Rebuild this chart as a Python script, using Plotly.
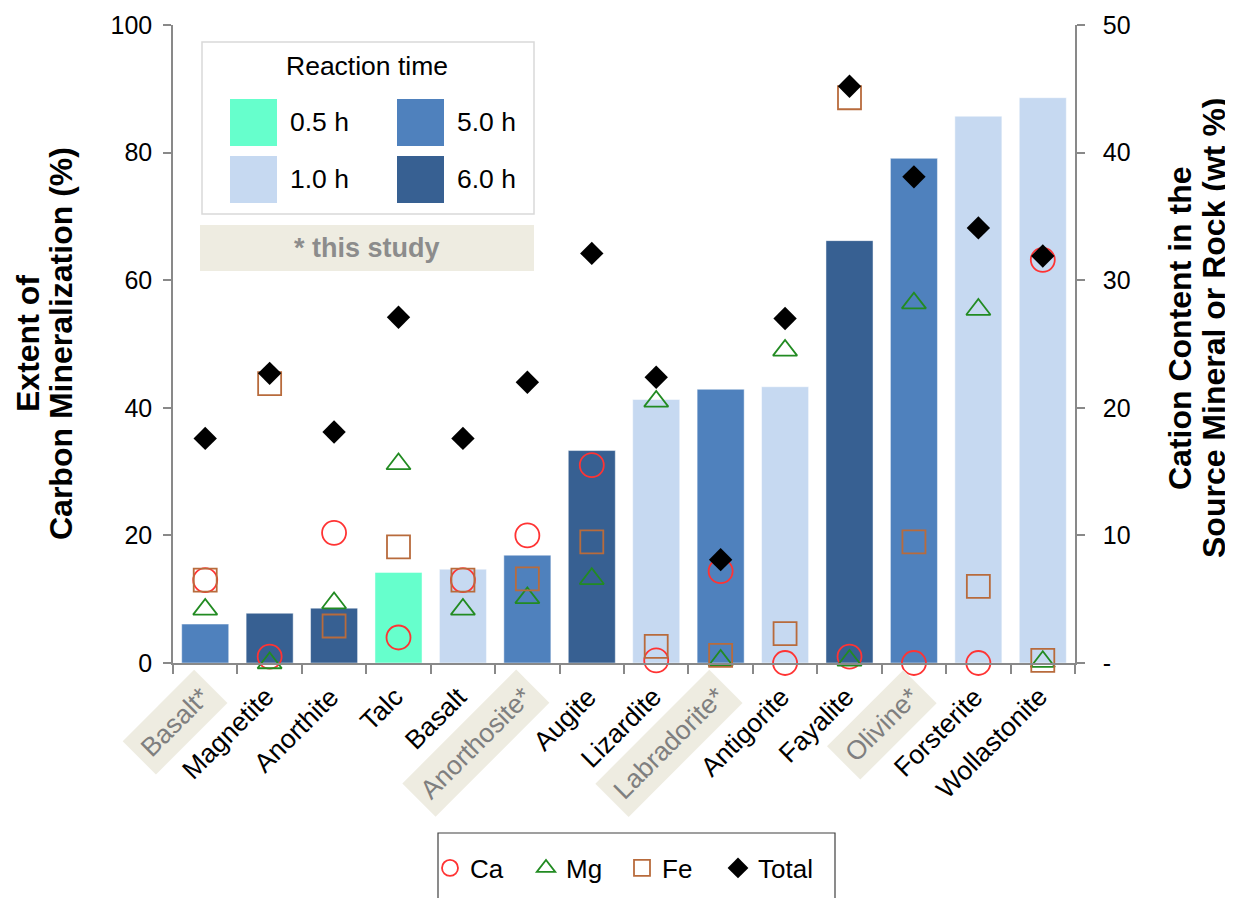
import plotly.graph_objects as go

# ---------------- data ----------------
minerals = ["Basalt*", "Magnetite", "Anorthite", "Talc", "Basalt", "Anorthosite*", "Augite",
            "Lizardite", "Labradorite*", "Antigorite", "Fayalite", "Olivine*", "Forsterite", "Wollastonite"]
this_study = [True, False, False, False, False, True, False, False, True, False, False, True, False, False]
extent = [6.1, 7.8, 8.6, 14.2, 14.7, 16.9, 33.3, 41.3, 42.9, 43.3, 66.2, 79.1, 85.7, 88.6]
reaction_time = ["5.0 h", "6.0 h", "6.0 h", "0.5 h", "1.0 h", "5.0 h", "6.0 h",
                 "1.0 h", "5.0 h", "1.0 h", "6.0 h", "5.0 h", "1.0 h", "1.0 h"]
ca = [6.5, 0.5, 10.2, 2.0, 6.5, 10.0, 15.5, 0.2, 7.2, 0.0, 0.5, 0.0, 0.0, 31.6]
mg = [4.2, 0.0, 4.7, 15.6, 4.2, 5.1, 6.6, 20.5, 0.2, 24.5, 0.2, 28.2, 27.7, 0.1]
fe = [6.5, 21.9, 2.9, 9.1, 6.5, 6.6, 9.5, 1.3, 0.6, 2.3, 44.3, 9.5, 6.0, 0.2]
total = [17.6, 22.7, 18.1, 27.1, 17.6, 22.0, 32.1, 22.4, 8.1, 27.0, 45.2, 38.1, 34.1, 31.9]

time_levels = ["0.5 h", "1.0 h", "5.0 h", "6.0 h"]
left_ticks = [0, 20, 40, 60, 80, 100]
right_ticks = [0, 10, 20, 30, 40, 50]
right_ticktext = ["-", "10", "20", "30", "40", "50"]
left_title = ["Extent of", "Carbon Mineralization (%)"]
right_title = ["Cation Content in the", "Source Mineral or Rock (wt %)"]

# ---------------- styles ----------------
FONT = "Liberation Sans, Arial, sans-serif"
time_colors = {"0.5 h": "#66FFCC", "1.0 h": "#C6D9F1", "5.0 h": "#4F81BD", "6.0 h": "#376092"}
AXIS_COL = "#898989"
BEIGE = "#EEECE1"
GRAY_TXT = "#7F7F7F"

OFF = 8                      # page body margin of the browser
PL, PT, PW, PH = 173, 25, 902, 638   # plot area in picture pixels
W, H = 1233, 898


def px(x):
    return (x - PL) / PW


def py(y):
    return (PT + PH - y) / PH


fig = go.Figure()

# bars, one trace per reaction time
for t in time_levels:
    xs = [m for m, rt in zip(minerals, reaction_time) if rt == t]
    ys = [v for v, rt in zip(extent, reaction_time) if rt == t]
    fig.add_trace(go.Bar(x=xs, y=ys, name=t, width=0.73, showlegend=False,
                         marker=dict(color=time_colors[t], line=dict(width=0.8, color="rgba(255,255,255,0.6)")),
                         yaxis="y"))

# cation markers on the right axis
marker_specs = [
    ("Ca", ca, dict(symbol="circle-open", size=24, color="#FF3333", line=dict(width=1.8, color="#FF3333"))),
    ("Mg", mg, dict(symbol="triangle-up-open", size=21, color="#228B22", line=dict(width=1.8, color="#228B22"))),
    ("Fe", fe, dict(symbol="square-open", size=23, color="#B86B3C", line=dict(width=1.8, color="#B86B3C"))),
    ("Total", total, dict(symbol="diamond", size=18, color="#000000", line=dict(width=0))),
]
for name, vals, mk in marker_specs:
    fig.add_trace(go.Scatter(x=minerals, y=vals, name=name, mode="markers", marker=mk,
                             yaxis="y2", legend="legend2", cliponaxis=False))

annotations = []
# category labels (rotated), some highlighted
for m, star in zip(minerals, this_study):
    annotations.append(dict(
        x=m, xref="x", y=0, yref="y", text=m, showarrow=False, textangle=-45,
        xanchor="right", yanchor="top", xshift=23, yshift=-6,
        font=dict(family=FONT, size=26.5, color=GRAY_TXT if star else "#000000"),
        bgcolor=BEIGE if star else "rgba(0,0,0,0)", borderpad=8))

# axis titles, one annotation per line
for line, xc in zip(left_title, [28, 61]):
    annotations.append(dict(x=px(xc), y=py(344), xref="paper", yref="paper", showarrow=False,
                            text="<b>%s</b>" % line, textangle=-90, xanchor="center", yanchor="middle",
                            font=dict(family=FONT, size=32, color="#000000")))
for line, xc in zip(right_title, [1180, 1214]):
    annotations.append(dict(x=px(xc), y=py(328), xref="paper", yref="paper", showarrow=False,
                            text="<b>%s</b>" % line, textangle=-90, xanchor="center", yanchor="middle",
                            font=dict(family=FONT, size=32, color="#000000")))

shapes = []
# reaction time legend box
shapes.append(dict(type="rect", xref="paper", yref="paper", x0=px(202), x1=px(534), y0=py(214), y1=py(42),
                   line=dict(color="#D9D9D9", width=1.5), fillcolor="white", layer="above"))
annotations.append(dict(x=px(367), y=py(66), xref="paper", yref="paper", showarrow=False,
                        text="Reaction time", xanchor="center", yanchor="middle",
                        font=dict(family=FONT, size=26.5, color="#000000")))
legend_slots = {"0.5 h": (230, 99), "1.0 h": (230, 156), "5.0 h": (397, 99), "6.0 h": (397, 156)}
for t in time_levels:
    x0, y0 = legend_slots[t]
    shapes.append(dict(type="rect", xref="paper", yref="paper", x0=px(x0), x1=px(x0 + 47),
                       y0=py(y0 + 47), y1=py(y0), line=dict(width=0), fillcolor=time_colors[t], layer="above"))
    annotations.append(dict(x=px(x0 + 58), y=py(y0 + 23), xref="paper", yref="paper", showarrow=False,
                            text=t, xanchor="left", yanchor="middle",
                            font=dict(family=FONT, size=26.5, color="#000000")))

# "* this study" box
shapes.append(dict(type="rect", xref="paper", yref="paper", x0=px(200), x1=px(534), y0=py(271), y1=py(225),
                   line=dict(width=0), fillcolor=BEIGE, layer="above"))
annotations.append(dict(x=px(367), y=py(248), xref="paper", yref="paper", showarrow=False,
                        text="<b>* this study</b>", xanchor="center", yanchor="middle",
                        font=dict(family=FONT, size=27, color="#8C8C8C")))

# bottom legend frame
shapes.append(dict(type="rect", xref="paper", yref="paper", x0=px(438), x1=px(835), y0=py(915), y1=py(833),
                   line=dict(color="#404040", width=1.2), fillcolor="rgba(0,0,0,0)"))

fig.update_layout(
    width=W, height=H, autosize=False,
    margin=dict(l=PL - OFF, r=W - (PL - OFF) - PW, t=PT - OFF, b=H - (PT - OFF) - PH, pad=0,
                autoexpand=False),
    paper_bgcolor="white", plot_bgcolor="white",
    barmode="overlay", bargap=0.27,
    font=dict(family=FONT, size=22, color="#000000"),
    xaxis=dict(type="category", categoryorder="array", categoryarray=minerals, range=[-0.5, 13.5],
               showline=True, linecolor=AXIS_COL, linewidth=1.5, ticks="outside", tickson="boundaries",
               ticklen=9, tickcolor=AXIS_COL, tickwidth=1.5, showticklabels=False, showgrid=False, zeroline=False),
    yaxis=dict(range=[0, 100], tickvals=left_ticks, showline=True, linecolor=AXIS_COL, linewidth=1.5,
               ticks="outside", ticklen=8, tickcolor=AXIS_COL, tickwidth=1.5, showgrid=False, zeroline=False,
               tickfont=dict(family=FONT, size=25, color="#000000"), ticklabelstandoff=6),
    yaxis2=dict(range=[0, 50], tickvals=right_ticks, ticktext=right_ticktext, overlaying="y", side="right",
                showline=True, linecolor=AXIS_COL, linewidth=1.5, ticks="outside", ticklen=8,
                tickcolor=AXIS_COL, tickwidth=1.5, showgrid=False, zeroline=False,
                tickfont=dict(family=FONT, size=25, color="#000000"), ticklabelstandoff=13),
    legend2=dict(orientation="h", x=px(430), xanchor="left", y=py(868), yanchor="middle",
                 xref="paper", yref="paper", entrywidth=51, entrywidthmode="pixels", itemwidth=30,
                 font=dict(family=FONT, size=26, color="#000000"), bgcolor="rgba(0,0,0,0)", borderwidth=0),
    shapes=shapes, annotations=annotations,
)

fig.write_html("out.html")
